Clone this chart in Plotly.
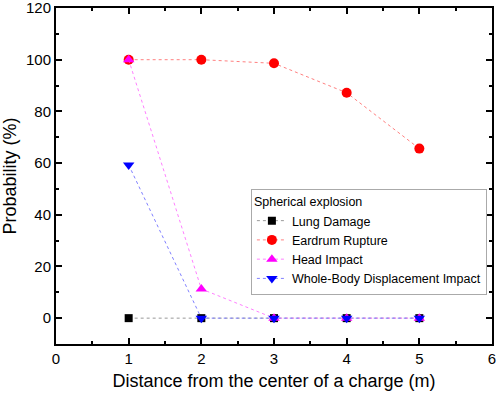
import plotly.graph_objects as go

distance = [1, 2, 3, 4, 5]
lung_damage = [0, 0, 0, 0, 0]
eardrum_rupture = [100, 100, 98.6, 87.2, 65.6]
head_impact = [100, 11.3, 0, 0, 0]
whole_body = [59.3, 0, 0, 0, 0]

series = [
    ("Lung Damage", lung_damage, "#000000", "#999999", "square", 8),
    ("Eardrum Rupture", eardrum_rupture, "#ff0000", "#ff8080", "circle", 10),
    ("Head Impact", head_impact, "#ff00ff", "#ff80ff", "triangle-up", 10),
    ("Whole-Body Displacement Impact", whole_body, "#0000ff", "#8080ff", "triangle-down", 10),
]

fig = go.Figure()
for name, vals, mc, lc, sym, size in series:
    fig.add_trace(go.Scatter(
        x=distance, y=vals, name=name, mode="lines+markers",
        line=dict(color=lc, width=1, dash="dot"),
        marker=dict(color=mc, symbol=sym, size=size),
    ))

font_family = "Liberation Sans, Arial"
axis_common = dict(
    showline=True, linecolor="black", linewidth=2, mirror="ticks",
    ticks="inside", ticklen=6, tickwidth=1.5, tickcolor="black",
    showgrid=False, zeroline=False, automargin=False,
    ticklabeloverflow="allow",
    tickfont=dict(family=font_family, size=15, color="black"),
)

fig.update_xaxes(
    range=[0, 6], dtick=1, tick0=0,
    minor=dict(ticks="inside", ticklen=3, dtick=0.5, tickwidth=1.5, tickcolor="black"),
    title=dict(text="Distance from the center of a charge (m)",
               font=dict(family=font_family, size=18, color="black"), standoff=8),
    **axis_common,
)
fig.update_yaxes(
    range=[-10, 120], dtick=20, tick0=0,
    minor=dict(ticks="inside", ticklen=3, dtick=10, tickwidth=1.5, tickcolor="black"),
    title=dict(text="Probability (%)",
               font=dict(family=font_family, size=18, color="black"), standoff=6),
    **axis_common,
)

fig.update_layout(
    width=500, height=395,
    margin=dict(l=56, r=8, t=8, b=51),
    plot_bgcolor="white", paper_bgcolor="white",
    legend=dict(
        title=dict(text="Spherical explosion", font=dict(family=font_family, size=12.5, color="black")),
        font=dict(family=font_family, size=12.5, color="black"),
        x=0.447, y=0.462, xanchor="left", yanchor="top",
        bordercolor="#aaaaaa", borderwidth=1, bgcolor="white",
        tracegroupgap=0, itemwidth=30,
    ),
)

fig.write_html("out.html", config={"displayModeBar": False},
               post_script="document.body.style.margin='0px';document.body.style.padding='0px';")
